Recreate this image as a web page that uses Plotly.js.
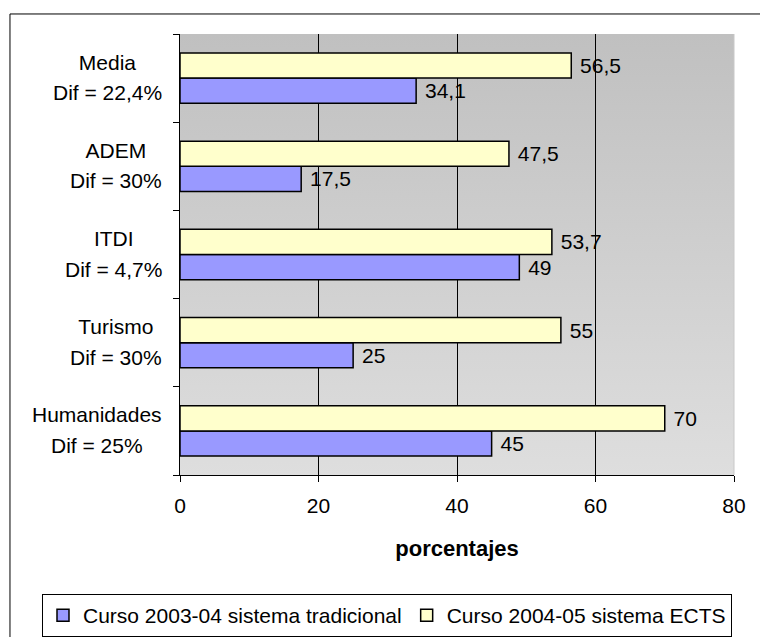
<!DOCTYPE html>
<html>
<head>
<meta charset="utf-8">
<script src="https://cdn.plot.ly/plotly-3.0.1.min.js"></script>
<style>html,body{margin:0;padding:0;background:#fff;}#chart{width:760px;height:637px;}</style>
</head>
<body>
<div id="chart"></div>
<script>
// ---- data (bottom to top) ----
var categories = ['Humanidades', 'Turismo', 'ITDI', 'ADEM', 'Media'];
var difLabels = ['Dif = 25%', 'Dif = 30%', 'Dif = 4,7%', 'Dif = 30%', 'Dif = 22,4%'];
var traditional = [45, 25, 49, 17.5, 34.1];
var ects = [70, 55, 53.7, 47.5, 56.5];
var seriesNames = ['Curso 2003-04 sistema tradicional', 'Curso 2004-05 sistema ECTS'];
var xTicks = [0, 20, 40, 60, 80];
var axisTitle = 'porcentajes';

var FONT = '"Liberation Sans", Arial, sans-serif';
function fmt(v) { return ' ' + String(v).replace('.', ','); }

function measure(t, size) {
  var c = document.createElement('canvas').getContext('2d');
  c.font = size + 'px "Liberation Sans"';
  return c.measureText(t).width;
}

var barLine = {color: '#000000', width: 1.5};
var traces = [
  {type: 'bar', orientation: 'h', name: seriesNames[0], y: categories, x: traditional,
   marker: {color: '#9999ff', line: barLine},
   text: traditional.map(fmt), textposition: 'outside', constraintext: 'none', cliponaxis: false,
   textfont: {family: FONT, size: 21, color: '#000'}, hoverinfo: 'x'},
  {type: 'bar', orientation: 'h', name: seriesNames[1], y: categories, x: ects,
   marker: {color: '#ffffcc', line: barLine},
   text: ects.map(fmt), textposition: 'outside', constraintext: 'none', cliponaxis: false,
   textfont: {family: FONT, size: 21, color: '#000'}, hoverinfo: 'x'}
];

var annotations = [];
categories.forEach(function (c, i) {
  var w = Math.max(measure(c, 21), measure(difLabels[i], 21)) + 2;
  annotations.push({xref: 'paper', yref: 'y', x: 0, y: c, xanchor: 'right', yanchor: 'middle',
    xshift: -15, yshift: 16, width: w, align: 'center', showarrow: false, text: c,
    font: {family: FONT, size: 21, color: '#000'}});
  annotations.push({xref: 'paper', yref: 'y', x: 0, y: c, xanchor: 'right', yanchor: 'middle',
    xshift: -15, yshift: -14.5, width: w, align: 'center', showarrow: false, text: difLabels[i],
    font: {family: FONT, size: 21, color: '#000'}});
});

var grad = '<svg xmlns="http://www.w3.org/2000/svg" width="100" height="100" preserveAspectRatio="none">' +
  '<defs><linearGradient id="g" x1="0" y1="0" x2="0" y2="1">' +
  '<stop offset="0" stop-color="#c0c0c0"/><stop offset="1" stop-color="#dedede"/></linearGradient></defs>' +
  '<rect width="100" height="100" fill="url(#g)"/></svg>';

var layout = {
  width: 760, height: 637,
  margin: {l: 180, r: 26, t: 34, b: 162, autoexpand: false},
  paper_bgcolor: '#ffffff', plot_bgcolor: 'rgba(0,0,0,0)',
  barmode: 'group', bargap: 0.43, bargroupgap: 0,
  font: {family: FONT, size: 21, color: '#000'},
  showlegend: true,
  legend: {orientation: 'h', x: -0.2491, xanchor: 'left', y: -0.2698, yanchor: 'top',
    bordercolor: '#000', borderwidth: 1, bgcolor: '#fff', itemwidth: 30,
    font: {family: FONT, size: 21, color: '#000'}, traceorder: 'normal'},
  xaxis: {range: [0, 80], tickvals: xTicks, ticktext: xTicks.map(String),
    showgrid: false, zeroline: false,
    minor: {tickmode: 'array', tickvals: xTicks.slice(1, -1), showgrid: true, gridcolor: '#000', gridwidth: 1, ticks: ''},
    showline: true, linecolor: '#000', linewidth: 1,
    ticks: 'outside', ticklen: 6, tickcolor: '#000', tickwidth: 1,
    ticklabelstandoff: 6,
    tickfont: {family: FONT, size: 21, color: '#000'},
    title: {text: axisTitle, font: {family: FONT, size: 22, color: '#000', weight: 'bold'}, standoff: 24},
    fixedrange: true},
  yaxis: {type: 'category', categoryorder: 'array', categoryarray: categories,
    showticklabels: false, showgrid: false, zeroline: false,
    showline: true, linecolor: '#000', linewidth: 1,
    ticks: 'outside', ticklen: 6, tickcolor: '#000', tickson: 'boundaries',
    range: [-0.5, 4.5], fixedrange: true},
  images: [{source: 'data:image/svg+xml;charset=utf-8,' + encodeURIComponent(grad),
    xref: 'paper', yref: 'paper', x: 0, y: 1, sizex: 1, sizey: 1,
    sizing: 'stretch', xanchor: 'left', yanchor: 'top', layer: 'below'}],
  shapes: [
    {type: 'rect', xref: 'paper', yref: 'paper', x0: -0.3069, x1: 1.2, y0: -0.6, y1: 1.0454,
     line: {color: '#000', width: 1}, fillcolor: 'rgba(0,0,0,0)', layer: 'below'},
    {type: 'line', xref: 'paper', yref: 'paper', x0: 1, x1: 1, y0: 0, y1: 1,
     line: {color: '#c8c8c8', width: 1}, layer: 'below'}
  ],
  annotations: annotations
};

Plotly.newPlot('chart', traces, layout, {displayModeBar: false, staticPlot: true});
</script>
</body>
</html>
